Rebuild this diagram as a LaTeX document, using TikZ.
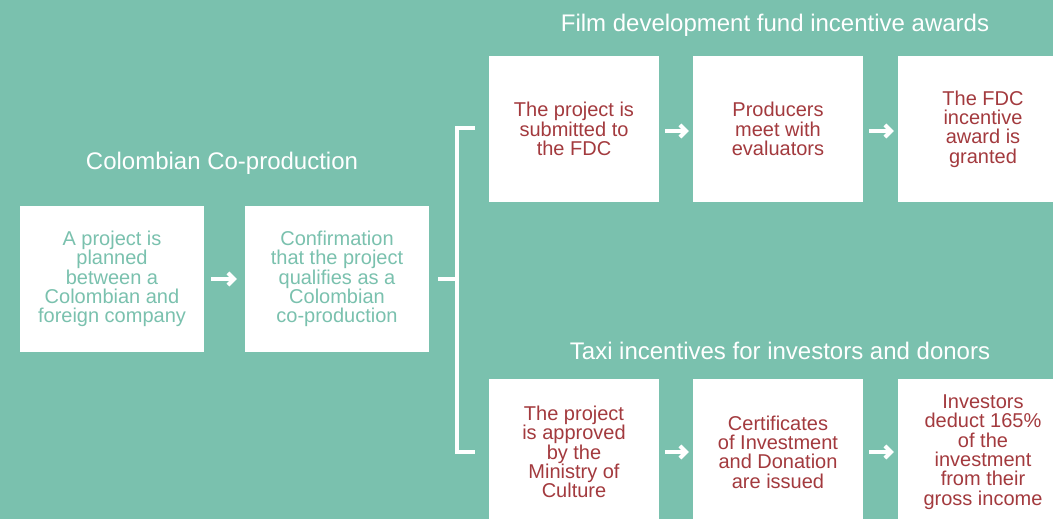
\documentclass[tikz,border=0pt]{standalone}
\usepackage{fontspec}
\setmainfont{Liberation Sans}
\usetikzlibrary{arrows.meta}
\definecolor{fdcteal}{RGB}{122,193,174}
\definecolor{fdcred}{RGB}{163,58,62}

\tikzset{
  stepbox/.style={fill=white, minimum width=170pt, minimum height=146pt, inner sep=0pt,
    align=center, font=\fontsize{20}{19.4}\selectfont},
  leftbox/.style={stepbox, minimum width=184pt, text=fdcteal},
  rightbox/.style={stepbox, text=fdcred},
  flow/.style={white, line width=4pt, -{Straight Barb[length=6pt,width=12pt]}},
  heading/.style={white, font=\fontsize{24}{26}\selectfont}
}

\begin{document}
\begin{tikzpicture}[x=1pt,y=-1pt]
\useasboundingbox (0,0) rectangle (1053,519);
\clip (0,0) rectangle (1053,519);
\fill[fdcteal] (0,0) rectangle (1053,519);

% headings
\node[heading] (colhead) at (222,163) {Colombian Co-production};
\node[heading] (fdchead) at (775,25) {Film development fund incentive awards};
\node[heading] (taxhead) at (780,351) {Taxi incentives for investors and donors};

% Colombian co-production
\node[leftbox] (plan) at (112,279) {A project is\\planned\\between a\\Colombian and\\foreign company};
\node[leftbox] (confirm) at (337,279) {Confirmation\\that the project\\qualifies as a\\Colombian\\co-production};

% film development fund
\node[rightbox] (submit) at (574,129) {The project is\\submitted to\\the FDC};
\node[rightbox] (meet) at (778,129) {Producers\\meet with\\evaluators};
\node[rightbox] (grant) at (983,129) {The FDC\\incentive\\award is\\granted};

% tax incentives
\node[rightbox] (approve) at (574,452) {The project\\is approved\\by the\\Ministry of\\Culture};
\node[rightbox] (issue) at (778,452) {Certificates\\of Investment\\and Donation\\are issued};
\node[rightbox] (deduct) at (983,452) {Investors\\deduct 165\%\\of the\\investment\\from their\\gross income};

% bracket
\coordinate (brtop) at (475,128);
\coordinate (brbot) at (475,452);
\coordinate (brmid) at (457,279);
\draw[white, line width=4.5pt] (brtop) -| (brmid) |- (brbot);
\draw[white, line width=4pt] (confirm.east) -- (brmid) [shorten <=9pt];

% arrows
\draw[flow, shorten <=7pt, shorten >=8pt] (plan) -- (confirm);
\draw[flow, shorten <=6pt, shorten >=4pt] (submit.east |- 0,131) -- (meet.west |- 0,131);
\draw[flow, shorten <=6pt, shorten >=4pt] (meet.east |- 0,131) -- (grant.west |- 0,131);
\draw[flow, shorten <=6pt, shorten >=4pt] (approve) -- (issue);
\draw[flow, shorten <=6pt, shorten >=4pt] (issue) -- (deduct);
\end{tikzpicture}
\end{document}
